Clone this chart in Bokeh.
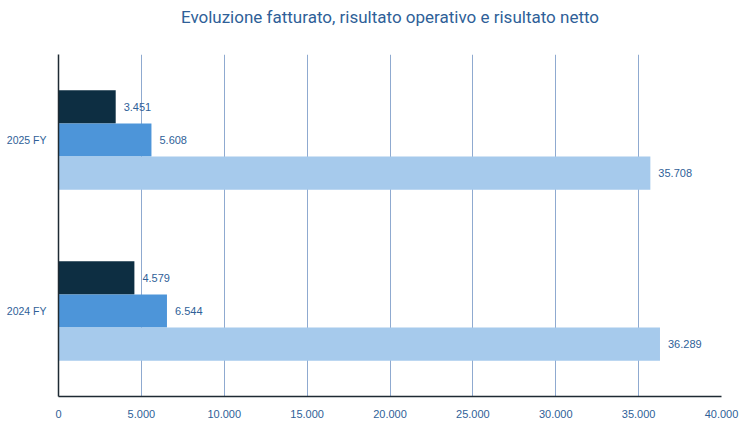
from bokeh.plotting import figure
from bokeh.models import FactorRange, Range1d, FixedTicker, CustomJSTickFormatter, ColumnDataSource, Title
from bokeh.transform import dodge
from bokeh.core.properties import value
from bokeh.embed import file_html
from bokeh.resources import INLINE

periods = ["2024 FY", "2025 FY"]
fatturato = [36289, 35708]
risultato_operativo = [6544, 5608]
risultato_netto = [4579, 3451]
x_ticks = [0, 5000, 10000, 15000, 20000, 25000, 30000, 35000, 40000]
title_text = "Evoluzione fatturato, risultato operativo e risultato netto"

TXT = "#2F5F98"
FONT = "Liberation Sans"

def fmt(v):
    return f"{v:,}".replace(",", ".")

p = figure(width=753, height=423, y_range=FactorRange(*periods), x_range=Range1d(0, 40000),
           output_backend="svg", toolbar_location=None,
           min_border_left=58, min_border_right=32, min_border_top=54, min_border_bottom=27)
p.title_location = None

# spacer between the title and the plot area
p.add_layout(Title(text=" ", text_font_size="17px", standoff=7), "above")
p.add_layout(Title(text=title_text, align="center", text_font="Roboto", text_font_size="17px",
                   text_font_style="normal", text_color=TXT, standoff=0), "above")

series = [
    (risultato_netto, 0.194, "#0D2E42"),
    (risultato_operativo, 0.0, "#4D95D9"),
    (fatturato, -0.194, "#A6CAEC"),
]
for vals, off, col in series:
    src = ColumnDataSource(dict(y=periods, x=vals, lab=[fmt(v) for v in vals]))
    p.hbar(y=dodge("y", off, range=p.y_range), right="x", left=0, height=0.194,
           source=src, fill_color=col, line_color=None)
    p.text(x="x", y=dodge("y", off, range=p.y_range), text="lab", source=src,
           x_offset=8, text_baseline="middle", text_align="left",
           text_font=value(FONT), text_font_size="11px", text_color=TXT)

p.outline_line_color = None
p.ygrid.grid_line_color = None
p.xgrid.grid_line_color = "#8FAAD0"
p.xgrid.grid_line_width = 1
p.xaxis.ticker = FixedTicker(ticks=x_ticks)
p.xaxis.formatter = CustomJSTickFormatter(code="return tick.toFixed(0).replace(/\\B(?=(\\d{3})+(?!\\d))/g, '.');")
p.xaxis.axis_line_color = "#1E2A33"
p.xaxis.axis_line_width = 1.5
p.xaxis.major_tick_line_color = None
p.xaxis.minor_tick_line_color = None
p.xaxis.major_label_standoff = 7
p.yaxis.axis_line_color = "#1E2A33"
p.yaxis.axis_line_width = 1.5
p.yaxis.major_tick_line_color = None
p.yaxis.minor_tick_line_color = None
p.yaxis.major_label_standoff = 6
for ax in (p.xaxis, p.yaxis):
    ax.major_label_text_font = FONT
    ax.major_label_text_color = TXT
p.xaxis.major_label_text_font_size = "11px"
p.yaxis.major_label_text_font_size = "10.5px"

open("out.html", "w").write(file_html(p, INLINE))
